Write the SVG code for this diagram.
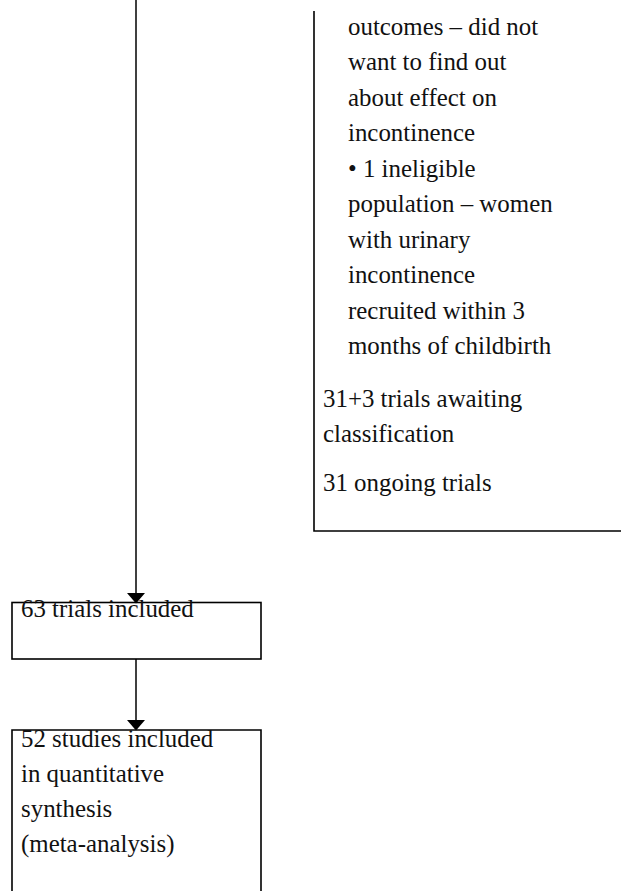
<svg xmlns="http://www.w3.org/2000/svg" width="621" height="891" viewBox="0 0 621 891">
<style>
.box{fill:none;stroke:#000;stroke-width:1.6}
.edge{fill:none;stroke:#000;stroke-width:1.5}
.head{fill:#000;stroke:none}
text{font-family:"Liberation Serif","Times New Roman",serif;font-size:24.9px;fill:#111}
</style>
<rect width="621" height="891" fill="#fff"/>
<g id="connectors">
<path class="edge" d="M136,0 V594"/>
<polygon class="head" points="127,593 145,593 136,603.5"/>
<path class="edge" d="M136,659 V721"/>
<polygon class="head" points="127,720 145,720 136,730.5"/>
</g>
<g id="excluded">
<path class="box" d="M314,11 V531 H622"/>
<text x="348" y="34.5">outcomes – did not</text>
<text x="348" y="70">want to find out</text>
<text x="348" y="105.5">about effect on</text>
<text x="348" y="141">incontinence</text>
<text x="348" y="176.5">• 1 ineligible</text>
<text x="348" y="212">population – women</text>
<text x="348" y="247.5">with urinary</text>
<text x="348" y="283">incontinence</text>
<text x="348" y="318.5">recruited within 3</text>
<text x="348" y="354">months of childbirth</text>
<text x="323" y="406.5">31+3 trials awaiting</text>
<text x="323" y="442">classification</text>
<text x="323" y="491">31 ongoing trials</text>
</g>
<g id="included">
<rect class="box" x="12" y="602.5" width="249" height="56.5"/>
<text x="21" y="617">63 trials included</text>
</g>
<g id="synthesis">
<path class="box" d="M12,892 V730 H261 V892"/>
<text x="21" y="746.5">52 studies included</text>
<text x="21" y="781.7">in quantitative</text>
<text x="21" y="816.9">synthesis</text>
<text x="21" y="852">(meta-analysis)</text>
</g>
</svg>
